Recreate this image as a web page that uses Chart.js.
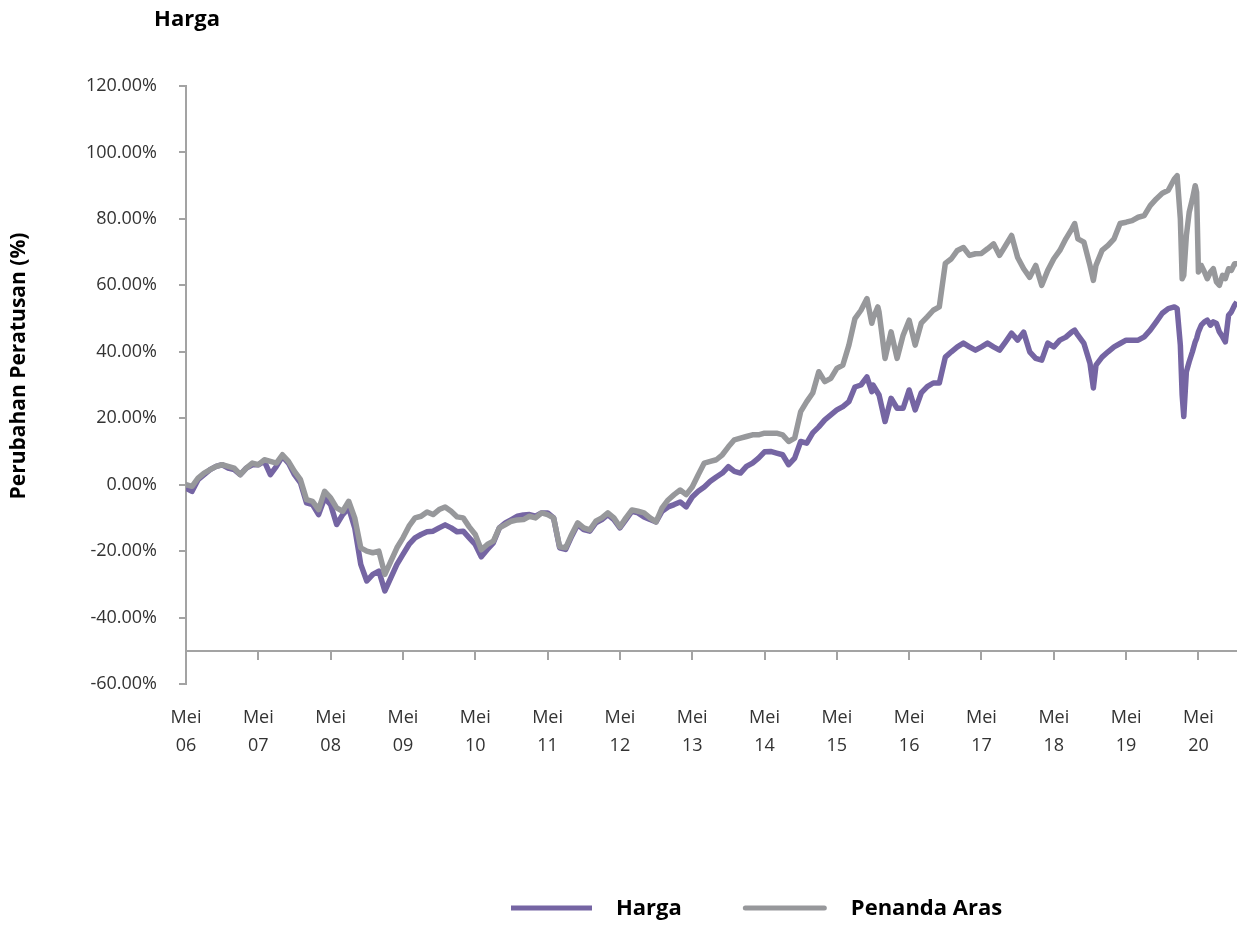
<!DOCTYPE html>
<html><head><meta charset="utf-8">
<script src="https://cdn.jsdelivr.net/npm/chart.js@4.4.1/dist/chart.umd.min.js"></script>
<style>html,body{margin:0;padding:0;background:#fff}#wrap{position:relative;width:1237px;height:926px}</style>
</head><body><div id="wrap"><canvas id="c"></canvas></div>
<script>
const chartTitle = 'Harga';
const yAxisTitle = 'Perubahan Peratusan (%)';
const seriesNames = ['Harga', 'Penanda Aras'];
const dates = [
'2006-05','2006-06','2006-07','2006-08','2006-09','2006-10','2006-11','2006-12',
'2007-01','2007-02','2007-03','2007-04','2007-05','2007-06','2007-07','2007-08','2007-09','2007-10','2007-11','2007-12',
'2008-01','2008-02','2008-03','2008-04','2008-05','2008-06','2008-07','2008-08','2008-09','2008-10','2008-11','2008-12',
'2009-01','2009-02','2009-03','2009-04','2009-05','2009-06','2009-07','2009-08','2009-09','2009-10','2009-11','2009-12',
'2010-01','2010-02','2010-03','2010-04','2010-05','2010-06','2010-07','2010-08','2010-09','2010-10','2010-11','2010-12',
'2011-01','2011-02','2011-03','2011-04','2011-05','2011-06','2011-07','2011-08','2011-09','2011-10','2011-11','2011-12',
'2012-01','2012-02','2012-03','2012-04','2012-05','2012-06','2012-07','2012-08','2012-09','2012-10','2012-11','2012-12',
'2013-01','2013-02','2013-03','2013-04','2013-05','2013-06','2013-07','2013-08','2013-09','2013-10','2013-11','2013-12',
'2014-01','2014-02','2014-03','2014-04','2014-05','2014-06','2014-07','2014-08','2014-09','2014-10','2014-11','2014-12',
'2015-01','2015-02','2015-03','2015-04','2015-05','2015-06','2015-07','2015-08','2015-09','2015-10','2015-10-25','2015-11','2015-11-25','2015-12',
'2016-01','2016-02','2016-03','2016-04','2016-05','2016-06','2016-07','2016-08','2016-09','2016-10','2016-11','2016-12',
'2017-01','2017-02','2017-03','2017-04','2017-05','2017-06','2017-07','2017-08','2017-09','2017-10','2017-11','2017-12',
'2018-01','2018-02','2018-03','2018-04','2018-05','2018-06','2018-07','2018-08','2018-08-15','2018-09','2018-10','2018-11','2018-11-18','2018-12',
'2019-01','2019-02','2019-03','2019-04','2019-05','2019-06','2019-07','2019-08','2019-09','2019-10','2019-11','2019-12',
'2020-01','2020-01-15','2020-02','2020-02-10','2020-02-18','2020-03','2020-03-15','2020-04','2020-04-15','2020-04-22',
'2020-05','2020-05-15','2020-06','2020-06-15','2020-07','2020-07-15','2020-08','2020-08-15','2020-09','2020-09-15',
'2020-10','2020-10-15','2020-11','2020-11-12'
];
const harga = [
-1,-2,1.5,3,4.5,5.5,6,5,
4.5,3,5,6,6,7,3,5.5,8.5,6.5,3,0.5,
-5.5,-6,-9,-4,-6,-12,-9,-7,-13,-24,-29,-27,
-26,-32,-28,-24,-21,-18,-16,-15,-14.2,-14,-13,-12.1,
-13,-14.2,-14,-16,-18,-21.7,-19.5,-17.5,-13,-11.5,-10.5,-9.5,
-9.1,-9,-9.5,-8.5,-8.5,-10,-19,-19.5,-15.5,-12,-13.5,-14,
-11.5,-10.5,-9,-10.5,-13,-10.5,-8,-8.5,-9.7,-10.5,-11.2,-8,
-6.7,-6,-5.2,-6.7,-3.7,-2,-0.7,1,2.3,3.5,5.4,4,
3.5,5.5,6.5,8,9.9,10,9.5,9,6,8,13,12.5,
15.6,17.4,19.5,21,22.5,23.5,25,29.4,30,32.4,28,30,27.6,27,
19,26,23,23,28.5,22.5,27.6,29.5,30.6,30.6,38.4,40,
41.5,42.6,41.5,40.5,41.5,42.6,41.5,40.5,43,45.6,43.5,45.9,
40,38,37.5,42.6,41.5,43.5,44.4,46,46.5,45,42.5,36.6,29.1,36,
38.4,40,41.5,42.5,43.5,43.5,43.5,44.5,46.5,49,51.6,53,
53.5,53,42,27,20.5,34,37,40,43,44,
46,48,49,49.5,48,49,48.5,46,44.5,43,
51,52,54,55
];
const penandaAras = [
0,-0.5,2,3.5,4.5,5.5,6,5.5,
5,3,5,6.5,6,7.5,7,6.5,9,7,4,1.5,
-4.5,-5,-7.5,-2,-4,-7,-8,-5,-10,-19,-20,-20.5,
-20,-27,-23,-19,-16,-12.5,-10,-9.5,-8.2,-9,-7.5,-6.7,
-8,-9.7,-10,-12.7,-15,-19.6,-18,-17,-13,-12,-11,-10.6,
-10.5,-9.5,-10,-8.5,-9,-10,-18.7,-19,-15,-11.5,-13,-13.6,
-11,-10,-8.5,-10,-12.7,-10,-7.6,-8,-8.5,-10,-11.2,-7,
-4.6,-3,-1.6,-3,-0.7,3,6.5,7,7.5,9,11.4,13.5,
14,14.5,15,15,15.5,15.5,15.5,15,13,14,22,25,
27.6,34,31,32,35,36,42,50,52.5,56,48.6,50,53.5,52,
38,46,38,45,49.5,42,48.6,50.5,52.5,53.5,66.6,68,
70.5,71.4,69,69.5,69.6,71,72.5,69,72,75,68.4,65,
62.4,66,60,64.5,68,70.5,74,77,78.6,74,73,66,61.5,66,
70.5,72,74,78.6,79,79.5,80.5,81,84,86,87.7,88.6,
92,93,80,62,63,75,82,86,90,88,
64,66,64,62,64,65,61,60,63,62,
65,64.5,66.5,66.5
];
const xTickDates = ['2006-05','2007-05','2008-05','2009-05','2010-05','2011-05','2012-05','2013-05','2014-05','2015-05','2016-05','2017-05','2018-05','2019-05','2020-05'];
const xTickLabels = [['Mei','06'],['Mei','07'],['Mei','08'],['Mei','09'],['Mei','10'],['Mei','11'],['Mei','12'],['Mei','13'],['Mei','14'],['Mei','15'],['Mei','16'],['Mei','17'],['Mei','18'],['Mei','19'],['Mei','20']];
const yMin = -60, yMax = 120, yStep = 20, xAxisCrossing = -50;
const xEnd = '2020-11-13';

function toMonth(s) {
  const p = s.split('-').map(Number);
  return (p[0] - 2006) * 12 + (p[1] - 1) + ((p[2] || 1) - 1) / 30;
}
const hargaPts = dates.map((d, i) => ({x: toMonth(d), y: harga[i]}));
const arasPts = dates.map((d, i) => ({x: toMonth(d), y: penandaAras[i]}));

const FONT = '"Open Sans"';
const AXIS = '#a3a3a3';

const textPlugin = {
  id: 'texts',
  afterDraw(chart) {
    const ctx = chart.ctx;
    ctx.save();
    ctx.fillStyle = '#000';
    ctx.textBaseline = 'middle';
    ctx.textAlign = 'center';
    ctx.font = 'bold 22px ' + FONT;
    ctx.fillText(chartTitle, 187, 20);
    ctx.save();
    ctx.translate(19, 366);
    ctx.rotate(-Math.PI / 2);
    ctx.font = 'bold 21px ' + FONT;
    ctx.fillText(yAxisTitle, 0, 0);
    ctx.restore();
    // legend
    const order = [1, 0];
    let x = 511;
    const y = 909;
    ctx.font = 'bold 22px ' + FONT;
    ctx.textAlign = 'left';
    order.forEach((di, k) => {
      const ds = chart.data.datasets[di];
      ctx.strokeStyle = ds.borderColor;
      ctx.lineWidth = 5;
      ctx.lineCap = ds.borderCapStyle;
      ctx.beginPath();
      const len = k === 0 ? 81 : 84;
      const off = ds.borderCapStyle === 'round' ? 2.5 : 0;
      ctx.moveTo(x + off, y - 1);
      ctx.lineTo(x + len - off, y - 1);
      ctx.stroke();
      ctx.fillText(ds.label, x + len + 24, y);
      x += len + 24 + ctx.measureText(ds.label).width + 61;
    });
    ctx.restore();
  }
};

new Chart(document.getElementById('c'), {
  type: 'line',
  data: {
    datasets: [
      {label: seriesNames[1], data: arasPts, borderColor: '#97989b', borderWidth: 5.5, pointRadius: 0, borderJoinStyle: 'round', borderCapStyle: 'round', order: 0},
      {label: seriesNames[0], data: hargaPts, borderColor: '#7565a3', borderWidth: 5.5, pointRadius: 0, borderJoinStyle: 'round', borderCapStyle: 'butt', order: 1}
    ]
  },
  options: {
    responsive: true,
    maintainAspectRatio: false,
    animation: false,
    layout: {padding: {left: 0, right: 0, top: 86, bottom: 242}},
    plugins: {legend: {display: false}, tooltip: {enabled: false}, title: {display: false}},
    scales: {
      x: {
        type: 'linear',
        position: {y: xAxisCrossing},
        min: toMonth(xTickDates[0]),
        max: toMonth(xEnd),
        afterBuildTicks: s => { s.ticks = xTickDates.map(d => ({value: toMonth(d)})); },
        afterFit: s => { s.paddingLeft = 0; s.paddingRight = 0; },
        ticks: {
          callback: (v, i) => xTickLabels[i],
          autoSkip: false, maxRotation: 0, padding: 45,
          font: {family: 'Open Sans', size: 18, lineHeight: 1.55}, color: '#333'
        },
        grid: {drawOnChartArea: false, drawTicks: true, tickLength: 8, color: AXIS, lineWidth: 2},
        border: {display: true, color: AXIS, width: 2}
      },
      y: {
        type: 'linear',
        position: 'left',
        min: yMin, max: yMax,
        afterFit: s => { s.width = 186; },
        ticks: {
          stepSize: yStep,
          callback: v => v.toFixed(2) + '%',
          padding: 22,
          font: {family: 'Open Sans', size: 18}, color: '#333'
        },
        grid: {drawOnChartArea: false, drawTicks: true, tickLength: 7, color: AXIS, lineWidth: 2},
        border: {display: true, color: AXIS, width: 2}
      }
    }
  },
  plugins: [textPlugin]
});
</script></body></html>
